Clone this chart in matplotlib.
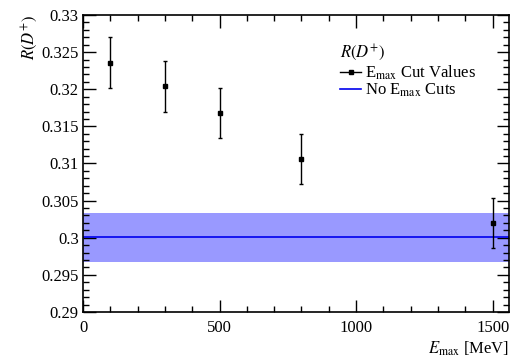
import matplotlib
matplotlib.use("Agg")
import matplotlib.pyplot as plt
from matplotlib.ticker import MultipleLocator
from matplotlib.lines import Line2D

# Data
emax_cuts = [100, 300, 500, 800, 1500]
r_values = [0.3236, 0.3204, 0.3168, 0.3106, 0.3020]
r_errors = [0.0034, 0.0034, 0.0034, 0.0034, 0.0034]
nocut_value = 0.3001
nocut_error = 0.0033
x_range = [0, 1560]
y_range = [0.29, 0.33]

plt.rcParams['font.family'] = ['Liberation Serif', 'DejaVu Serif']
plt.rcParams['mathtext.fontset'] = 'stix'

fig = plt.figure(figsize=(5.15, 3.56), dpi=100)
ax = fig.add_axes([83/515, 1 - 312/356, (509-83)/515, (312-15)/356])

ax.axhspan(nocut_value - nocut_error, nocut_value + nocut_error,
           color='#9999ff', lw=0, zorder=1)
line_nocut, = ax.plot(x_range, [nocut_value, nocut_value], color='#0000ee',
                      lw=1.2, zorder=2)
ax.errorbar(emax_cuts, r_values, yerr=r_errors, fmt='s', color='black',
            ms=3.2, elinewidth=1.0, capsize=1.5, capthick=1.0, zorder=3)

ax.set_xlim(*x_range)
ax.set_ylim(*y_range)

ax.xaxis.set_major_locator(MultipleLocator(500))
ax.xaxis.set_minor_locator(MultipleLocator(100))
ax.yaxis.set_major_locator(MultipleLocator(0.005))
ax.yaxis.set_minor_locator(MultipleLocator(0.001))
ax.tick_params(which='both', direction='in', top=True, right=True,
               labelsize=12, width=1.0)
ax.tick_params(which='major', length=9)
ax.tick_params(which='minor', length=4.5)
ax.tick_params(axis='x', pad=6)
ax.tick_params(axis='y', pad=3)
for s in ax.spines.values():
    s.set_linewidth(1.2)

ax.yaxis.set_major_formatter(matplotlib.ticker.FuncFormatter(
    lambda v, p: ('%.3f' % v).rstrip('0').rstrip('.')))

ax.set_xlabel(r'$E_{\rm max}$ [MeV]', fontsize=12, loc='right', labelpad=2)
ax.set_ylabel(r'$R(D^{+})$', fontsize=12, loc='top', labelpad=1)

h_cut = Line2D([], [], color='black', lw=1.0, marker='s', ms=3.2)
h_nocut = Line2D([], [], color='#0000ee', lw=1.2)
leg = ax.legend([h_cut, h_nocut],
                [r'E$_{\rm max}$ Cut Values', r'No E$_{\rm max}$ Cuts'],
                title=r'$R(D^{+})$', title_fontsize=12, fontsize=12,
                loc='upper left', bbox_to_anchor=(0.583, 0.935),
                frameon=False, handlelength=1.3, handletextpad=0.2,
                labelspacing=0.0, borderpad=0, alignment='left')

fig.savefig('out.png', dpi=100)
